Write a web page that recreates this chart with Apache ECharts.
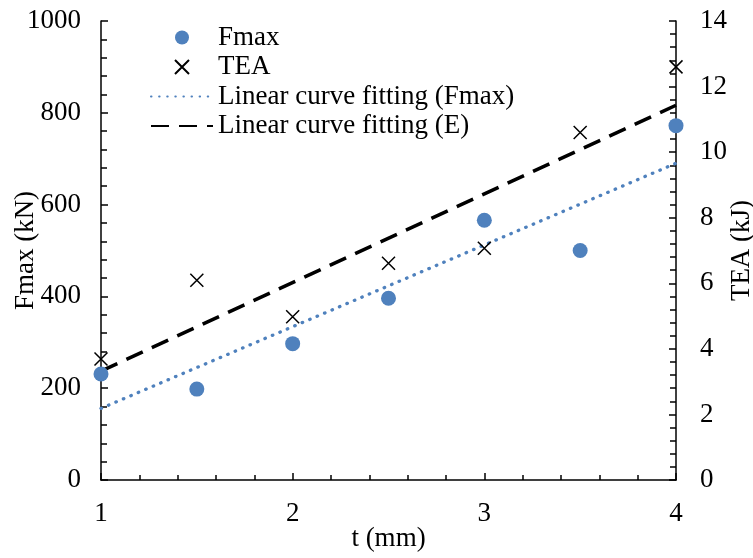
<!DOCTYPE html>
<html>
<head>
	<meta charset="utf-8">
	<title>Fmax and TEA vs t</title>
    <script src="https://cdn.jsdelivr.net/npm/echarts@6/dist/echarts.min.js"></script>
    <style>
        body { margin: 0; background: #fff; }
    </style>
</head>
<body>
    <div id="main" style="width: 753px;height:558px;"></div>
	<script type="text/javascript">
        // values
        const thickness = [1, 1.5, 2, 2.5, 3, 3.5, 4];
        const fmax = [231, 198, 297, 396, 566, 500, 772];
        const tea = [3.69, 6.09, 4.98, 6.61, 7.07, 10.6, 12.6];
        // end points of the two fitted lines
        const fitFmax = [[1, 156], [4, 690]];
        const fitTea = [[1, 3.32], [4, 11.43]];

        const font = 'Liberation Serif';
        const fontSize = 27;
        const blue = '#4F81BD';
        const cross = 'path://M0,0L10,10M10,0L0,10';

        const myChart = echarts.init(document.getElementById('main'));

        // fresh axis object each time so nothing is shared between axes
        function makeAxis(extra, labelMargin, minorLen) {
            return Object.assign({
                type: 'value',
                nameLocation: 'middle',
                nameMoveOverlap: false,
                axisLine: { show: true, lineStyle: { color: '#000', width: 1.5 } },
                axisTick: { show: true, inside: true, length: 7, lineStyle: { color: '#000', width: 1.5 } },
                minorTick: { show: true, splitNumber: 5, length: minorLen, lineStyle: { color: '#000', width: 1.5 } },
                splitLine: { show: false },
                axisLabel: { color: '#000', fontFamily: font, fontSize: fontSize, margin: labelMargin, formatter: v => String(v) },
                nameTextStyle: { color: '#000', fontFamily: font, fontSize: fontSize }
            }, extra);
        }

        const options = {
            animation: false,
            grid: { left: 101, right: 77, top: 21, bottom: 78, containLabel: false, outerBoundsMode: 'none' },
            legend: {
                orient: 'vertical',
                left: 145,
                top: 19,
                itemWidth: 62,
                itemHeight: 14,
                itemGap: 2.5,
                textStyle: { color: '#000', fontFamily: font, fontSize: fontSize, lineHeight: 27 },
                data: [
                    'Fmax',
                    'TEA',
                    { name: 'Linear curve fitting (Fmax)', itemStyle: { opacity: 0 } },
                    { name: 'Linear curve fitting (E)', itemStyle: { opacity: 0 } }
                ]
            },
            xAxis: makeAxis({ min: 1, max: 4, interval: 1, name: 't (mm)', nameGap: 45 }, 20, 5),
            yAxis: [
                makeAxis({ min: 0, max: 1000, interval: 200, name: 'Fmax (kN)', nameGap: 62, nameRotate: 90 }, 20, 6),
                makeAxis({ position: 'right', min: 0, max: 14, interval: 2, name: 'TEA (kJ)', nameGap: 52, nameRotate: 90 }, 24, 6)
            ],
            series: [
                {
                    name: 'Linear curve fitting (Fmax)',
                    type: 'line',
                    yAxisIndex: 0,
                    data: fitFmax,
                    symbol: 'none',
                    z: 2,
                    itemStyle: { color: blue },
                    lineStyle: { color: blue, width: 3.3, type: [0.5, 7.6], cap: 'round' }
                },
                {
                    name: 'Linear curve fitting (E)',
                    type: 'line',
                    yAxisIndex: 1,
                    data: fitTea,
                    symbol: 'none',
                    z: 2,
                    itemStyle: { color: '#000' },
                    lineStyle: { color: '#000', width: 3.5, type: [18, 10] }
                },
                {
                    name: 'Fmax',
                    type: 'scatter',
                    yAxisIndex: 0,
                    data: thickness.map((t, i) => [t, fmax[i]]),
                    symbol: 'circle',
                    symbolSize: 15,
                    z: 3,
                    itemStyle: { color: blue, opacity: 1 }
                },
                {
                    name: 'TEA',
                    type: 'scatter',
                    yAxisIndex: 1,
                    data: thickness.map((t, i) => [t, tea[i]]),
                    symbol: cross,
                    symbolSize: 13,
                    z: 3,
                    itemStyle: { color: 'transparent', borderColor: '#000', borderWidth: 1.5, opacity: 1 }
                }
            ]
        };

        myChart.setOption(options);
	</script>
</body>
</html>
